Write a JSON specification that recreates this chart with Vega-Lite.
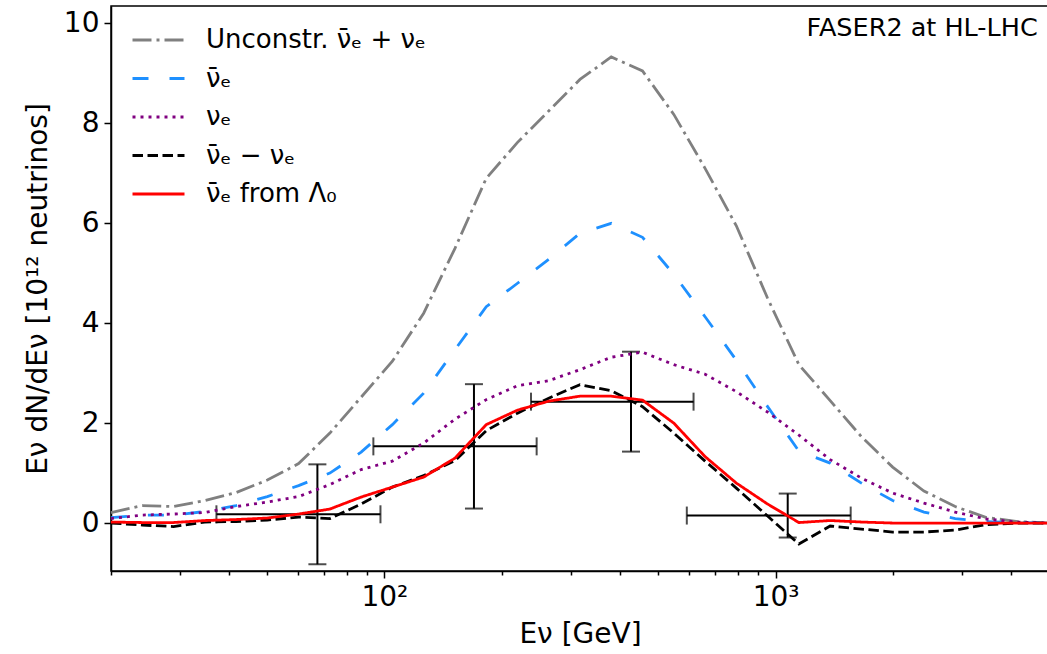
{
  "$schema": "https://vega.github.io/schema/vega-lite/v6.json",
  "width": 938,
  "height": 565,
  "autosize": {"type": "none"},
  "padding": {"left": 111, "top": 6, "right": 0, "bottom": 83},
  "background": "white",
  "config": {
    "font": "DejaVu Sans",
    "view": {"stroke": "black", "strokeWidth": 1.5},
    "axis": {
      "domainColor": "black", "domainWidth": 1.5, "tickColor": "black", "tickWidth": 1.5,
      "labelFont": "DejaVu Sans", "labelFontSize": 28, "labelColor": "black",
      "titleFont": "DejaVu Sans", "titleFontSize": 28, "titleColor": "black", "titleFontWeight": "normal",
      "grid": false
    },
    "legend": {
      "orient": "none", "legendX": 20, "legendY": 15,
      "symbolType": "stroke", "symbolSize": 2704, "symbolStrokeWidth": 2.8,
      "labelFont": "DejaVu Sans", "labelFontSize": 26, "labelColor": "black",
      "rowPadding": 0.5, "clipHeight": 38, "labelOffset": 20, "labelLimit": 600
    }
  },
  "datasets": {
    "bars": [
      {"E": 67.4, "y": 0.175, "ylo": -0.825, "yhi": 1.175, "xlo": 37.2, "xhi": 97.7},
      {"E": 169.4, "y": 1.535, "ylo": 0.29, "yhi": 2.78, "xlo": 93.7, "xhi": 245},
      {"E": 427, "y": 2.43, "ylo": 1.43, "yhi": 3.43, "xlo": 237, "xhi": 617},
      {"E": 1074, "y": 0.15, "ylo": -0.29, "yhi": 0.59, "xlo": 593, "xhi": 1556}
    ],
    "curves": [
      {"E": 20, "s": "U", "v": 0.21}, {"E": 24.04, "s": "U", "v": 0.35}, {"E": 28.9, "s": "U", "v": 0.33}, {"E": 34.74, "s": "U", "v": 0.45}, {"E": 41.76, "s": "U", "v": 0.61}, {"E": 50.2, "s": "U", "v": 0.86}, {"E": 60.34, "s": "U", "v": 1.19}, {"E": 72.54, "s": "U", "v": 1.8}, {"E": 87.2, "s": "U", "v": 2.52}, {"E": 104.8, "s": "U", "v": 3.24}, {"E": 126.0, "s": "U", "v": 4.2}, {"E": 151.5, "s": "U", "v": 5.5}, {"E": 182.1, "s": "U", "v": 6.9}, {"E": 218.9, "s": "U", "v": 7.62}, {"E": 263.1, "s": "U", "v": 8.25}, {"E": 316.2, "s": "U", "v": 8.88}, {"E": 380.1, "s": "U", "v": 9.33}, {"E": 456.9, "s": "U", "v": 9.05}, {"E": 549.3, "s": "U", "v": 8.18}, {"E": 660.3, "s": "U", "v": 7.1}, {"E": 793.7, "s": "U", "v": 5.95}, {"E": 954.1, "s": "U", "v": 4.5}, {"E": 1147, "s": "U", "v": 3.17}, {"E": 1379, "s": "U", "v": 2.45}, {"E": 1657, "s": "U", "v": 1.73}, {"E": 1992, "s": "U", "v": 1.12}, {"E": 2395, "s": "U", "v": 0.64}, {"E": 2879, "s": "U", "v": 0.33}, {"E": 3461, "s": "U", "v": 0.11}, {"E": 4160, "s": "U", "v": 0.03}, {"E": 5000, "s": "U", "v": 0.0},
      {"E": 20, "s": "B", "v": 0.11}, {"E": 24.04, "s": "B", "v": 0.16}, {"E": 28.9, "s": "B", "v": 0.16}, {"E": 34.74, "s": "B", "v": 0.23}, {"E": 41.76, "s": "B", "v": 0.35}, {"E": 50.2, "s": "B", "v": 0.53}, {"E": 60.34, "s": "B", "v": 0.75}, {"E": 72.54, "s": "B", "v": 1.0}, {"E": 87.2, "s": "B", "v": 1.42}, {"E": 104.8, "s": "B", "v": 1.97}, {"E": 126.0, "s": "B", "v": 2.6}, {"E": 151.5, "s": "B", "v": 3.47}, {"E": 182.1, "s": "B", "v": 4.33}, {"E": 218.9, "s": "B", "v": 4.8}, {"E": 263.1, "s": "B", "v": 5.28}, {"E": 316.2, "s": "B", "v": 5.8}, {"E": 380.1, "s": "B", "v": 6.0}, {"E": 456.9, "s": "B", "v": 5.72}, {"E": 549.3, "s": "B", "v": 4.98}, {"E": 660.3, "s": "B", "v": 4.13}, {"E": 793.7, "s": "B", "v": 3.26}, {"E": 954.1, "s": "B", "v": 2.33}, {"E": 1147, "s": "B", "v": 1.44}, {"E": 1379, "s": "B", "v": 1.2}, {"E": 1657, "s": "B", "v": 0.8}, {"E": 1992, "s": "B", "v": 0.45}, {"E": 2395, "s": "B", "v": 0.22}, {"E": 2879, "s": "B", "v": 0.09}, {"E": 3461, "s": "B", "v": 0.03}, {"E": 4160, "s": "B", "v": 0.01}, {"E": 5000, "s": "B", "v": 0.0},
      {"E": 20, "s": "P", "v": 0.09}, {"E": 24.04, "s": "P", "v": 0.16}, {"E": 28.9, "s": "P", "v": 0.18}, {"E": 34.74, "s": "P", "v": 0.21}, {"E": 41.76, "s": "P", "v": 0.33}, {"E": 50.2, "s": "P", "v": 0.42}, {"E": 60.34, "s": "P", "v": 0.53}, {"E": 72.54, "s": "P", "v": 0.77}, {"E": 87.2, "s": "P", "v": 1.07}, {"E": 104.8, "s": "P", "v": 1.24}, {"E": 126.0, "s": "P", "v": 1.6}, {"E": 151.5, "s": "P", "v": 2.08}, {"E": 182.1, "s": "P", "v": 2.47}, {"E": 218.9, "s": "P", "v": 2.75}, {"E": 263.1, "s": "P", "v": 2.85}, {"E": 316.2, "s": "P", "v": 3.07}, {"E": 380.1, "s": "P", "v": 3.32}, {"E": 456.9, "s": "P", "v": 3.42}, {"E": 549.3, "s": "P", "v": 3.17}, {"E": 660.3, "s": "P", "v": 2.98}, {"E": 793.7, "s": "P", "v": 2.63}, {"E": 954.1, "s": "P", "v": 2.22}, {"E": 1147, "s": "P", "v": 1.76}, {"E": 1379, "s": "P", "v": 1.27}, {"E": 1657, "s": "P", "v": 0.9}, {"E": 1992, "s": "P", "v": 0.6}, {"E": 2395, "s": "P", "v": 0.4}, {"E": 2879, "s": "P", "v": 0.22}, {"E": 3461, "s": "P", "v": 0.08}, {"E": 4160, "s": "P", "v": 0.02}, {"E": 5000, "s": "P", "v": 0.0},
      {"E": 20, "s": "D", "v": 0.0}, {"E": 24.04, "s": "D", "v": -0.04}, {"E": 28.9, "s": "D", "v": -0.07}, {"E": 34.74, "s": "D", "v": 0.02}, {"E": 41.76, "s": "D", "v": 0.03}, {"E": 50.2, "s": "D", "v": 0.06}, {"E": 60.34, "s": "D", "v": 0.12}, {"E": 72.54, "s": "D", "v": 0.09}, {"E": 87.2, "s": "D", "v": 0.38}, {"E": 104.8, "s": "D", "v": 0.72}, {"E": 126.0, "s": "D", "v": 0.95}, {"E": 151.5, "s": "D", "v": 1.25}, {"E": 182.1, "s": "D", "v": 1.85}, {"E": 218.9, "s": "D", "v": 2.2}, {"E": 263.1, "s": "D", "v": 2.5}, {"E": 316.2, "s": "D", "v": 2.77}, {"E": 380.1, "s": "D", "v": 2.65}, {"E": 456.9, "s": "D", "v": 2.33}, {"E": 549.3, "s": "D", "v": 1.8}, {"E": 660.3, "s": "D", "v": 1.24}, {"E": 793.7, "s": "D", "v": 0.7}, {"E": 954.1, "s": "D", "v": 0.14}, {"E": 1147, "s": "D", "v": -0.42}, {"E": 1379, "s": "D", "v": -0.06}, {"E": 1657, "s": "D", "v": -0.12}, {"E": 1992, "s": "D", "v": -0.18}, {"E": 2395, "s": "D", "v": -0.18}, {"E": 2879, "s": "D", "v": -0.14}, {"E": 3461, "s": "D", "v": -0.03}, {"E": 4160, "s": "D", "v": 0.0}, {"E": 5000, "s": "D", "v": 0.0},
      {"E": 20, "s": "R", "v": 0.02}, {"E": 24.04, "s": "R", "v": 0.01}, {"E": 28.9, "s": "R", "v": 0.01}, {"E": 34.74, "s": "R", "v": 0.05}, {"E": 41.76, "s": "R", "v": 0.07}, {"E": 50.2, "s": "R", "v": 0.1}, {"E": 60.34, "s": "R", "v": 0.18}, {"E": 72.54, "s": "R", "v": 0.28}, {"E": 87.2, "s": "R", "v": 0.52}, {"E": 104.8, "s": "R", "v": 0.72}, {"E": 126.0, "s": "R", "v": 0.92}, {"E": 151.5, "s": "R", "v": 1.3}, {"E": 182.1, "s": "R", "v": 1.97}, {"E": 218.9, "s": "R", "v": 2.26}, {"E": 263.1, "s": "R", "v": 2.44}, {"E": 316.2, "s": "R", "v": 2.54}, {"E": 380.1, "s": "R", "v": 2.54}, {"E": 456.9, "s": "R", "v": 2.46}, {"E": 549.3, "s": "R", "v": 2.0}, {"E": 660.3, "s": "R", "v": 1.33}, {"E": 793.7, "s": "R", "v": 0.8}, {"E": 954.1, "s": "R", "v": 0.38}, {"E": 1147, "s": "R", "v": 0.01}, {"E": 1379, "s": "R", "v": 0.05}, {"E": 1657, "s": "R", "v": 0.02}, {"E": 1992, "s": "R", "v": 0.0}, {"E": 2395, "s": "R", "v": 0.0}, {"E": 2879, "s": "R", "v": 0.0}, {"E": 3461, "s": "R", "v": 0.0}, {"E": 4160, "s": "R", "v": 0.0}, {"E": 5000, "s": "R", "v": 0.0}
    ]
  },
  "layer": [
    {
      "data": {"name": "bars"},
      "mark": {"type": "errorbar", "color": "black", "thickness": 2, "size": 18, "ticks": true},
      "encoding": {
        "x": {"field": "E", "type": "quantitative", "scale": {"type": "log", "domain": [20, 5000], "nice": false},
              "axis": {"orient": "bottom", "values": [20, 30, 40, 50, 60, 70, 80, 90, 200, 300, 400, 500, 600, 700, 800, 900, 2000, 3000, 4000, 5000], "tickSize": 4, "labels": false, "domain": false, "title": null, "grid": false}},
        "y": {"field": "ylo", "type": "quantitative", "scale": {"domain": [-0.96, 10.35], "nice": false, "zero": false}, "axis": null},
        "y2": {"field": "yhi"}
      }
    },
    {
      "data": {"name": "bars"},
      "mark": {"type": "errorbar", "color": "black", "thickness": 2, "size": 18, "ticks": true},
      "encoding": {
        "x": {"field": "xlo", "type": "quantitative", "scale": {"type": "log", "domain": [20, 5000], "nice": false}, "axis": null},
        "x2": {"field": "xhi"},
        "y": {"field": "y", "type": "quantitative", "scale": {"domain": [-0.96, 10.35], "nice": false, "zero": false}, "axis": null}
      }
    },
    {
      "data": {"name": "curves"},
      "mark": {"type": "line", "strokeWidth": 2.8, "strokeCap": "butt"},
      "encoding": {
        "x": {"field": "E", "type": "quantitative", "scale": {"type": "log", "domain": [20, 5000], "nice": false},
              "axis": {"orient": "bottom", "values": [100, 1000], "tickSize": 7, "labelPadding": 5, "labelExpr": "datum.value == 100 ? '10\u00b2' : '10\u00b3'", "title": "E\u03bd [GeV]", "titlePadding": 9}},
        "y": {"field": "v", "type": "quantitative", "scale": {"domain": [-0.96, 10.35], "nice": false, "zero": false},
              "axis": {"values": [0, 2, 4, 6, 8, 10], "tickSize": 7, "labelPadding": 5, "title": "E\u03bd dN/dE\u03bd [10\u00b9\u00b2 neutrinos]", "titlePadding": 11}},
        "color": {"field": "s", "type": "nominal",
                  "scale": {"domain": ["U", "B", "P", "D", "R"], "range": ["#808080", "#1e90ff", "#800080", "#000000", "#ff0000"]},
                  "legend": {"title": null, "labelExpr": "datum.label == 'U' ? 'Unconstr. \u03bd\u0304\u2091 + \u03bd\u2091' : datum.label == 'B' ? '\u03bd\u0304\u2091' : datum.label == 'P' ? '\u03bd\u2091' : datum.label == 'D' ? '\u03bd\u0304\u2091 \u2212 \u03bd\u2091' : '\u03bd\u0304\u2091 from \u039b\u2080'"}},
        "strokeDash": {"field": "s", "type": "nominal",
                  "scale": {"domain": ["U", "B", "P", "D", "R"], "range": [[19, 5, 3, 5], [16, 21], [3, 5], [10.5, 4.5], [1, 0]]},
                  "legend": {"title": null, "labelExpr": "datum.label == 'U' ? 'Unconstr. \u03bd\u0304\u2091 + \u03bd\u2091' : datum.label == 'B' ? '\u03bd\u0304\u2091' : datum.label == 'P' ? '\u03bd\u2091' : datum.label == 'D' ? '\u03bd\u0304\u2091 \u2212 \u03bd\u2091' : '\u03bd\u0304\u2091 from \u039b\u2080'"}}
      }
    },
    {
      "data": {"values": [{"t": "FASER2 at HL-LHC"}]},
      "mark": {"type": "text", "align": "right", "baseline": "middle", "fontSize": 25.5, "font": "DejaVu Sans", "color": "black"},
      "encoding": {
        "x": {"datum": 4680, "type": "quantitative", "scale": {"type": "log", "domain": [20, 5000], "nice": false}, "axis": null},
        "y": {"datum": 9.9, "type": "quantitative", "scale": {"domain": [-0.96, 10.35], "nice": false, "zero": false}, "axis": null},
        "text": {"field": "t"}
      }
    }
  ],
  "resolve": {"axis": {"x": "independent", "y": "independent"}}
}
